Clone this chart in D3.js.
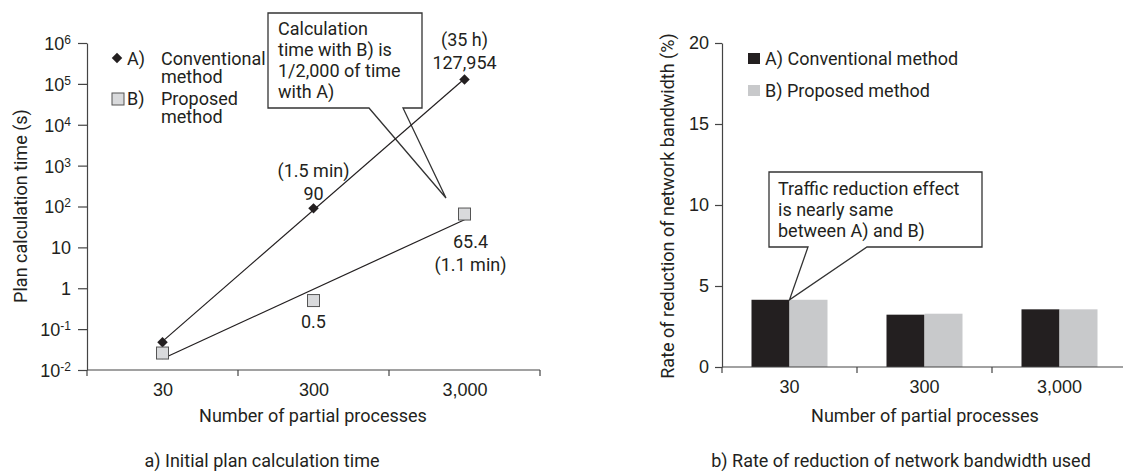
<!DOCTYPE html>
<html>
<head>
<meta charset="utf-8">
<script src="https://cdn.jsdelivr.net/npm/d3@7"></script>
<style>
  body { margin: 0; background: #fff; }
  svg { display: block; font-family: Roboto, "Noto Sans", sans-serif; fill: #231f20; }
</style>
</head>
<body>
<div id="chart"></div>
<script>
// data
const categories = ["30", "300", "3,000"];
const calcTimeA = [0.048, 90, 127954];   // conventional method (s)
const calcTimeB = [0.026, 0.5, 65.4];    // proposed method (s)
const bandwidthA = [4.15, 3.23, 3.56];   // conventional (%)
const bandwidthB = [4.15, 3.29, 3.56];   // proposed (%)
const logTicks = [1e-2, 1e-1, 1, 10, 1e2, 1e3, 1e4, 1e5, 1e6];
const bwTicks = [0, 5, 10, 15, 20];
const seriesNames = ["A) Conventional method", "B) Proposed method"];

const textColor = "#231f20";
const axisColor = "#444";
const fs = 18;

const svg = d3.select("#chart").append("svg")
	.attr("width", 1123)
	.attr("height", 475);

// ---------- a) line chart (log scale) ----------
const xa = d3.scalePoint()
	.domain(categories)
	.range([87, 540])
	.padding(0.5);

const ya = d3.scaleLog()
	.domain([1e-2, 1e6])
	.range([370, 43]);

const gA = svg.append("g");

// y axis with superscript labels
const yAxisA = gA.append("g")
	.attr("transform", "translate(87,0)")
	.call(d3.axisLeft(ya).tickValues(logTicks).tickSize(9).tickSizeOuter(0).tickFormat(""));
yAxisA.selectAll("path, line").attr("stroke", axisColor).attr("stroke-width", 1.2);
yAxisA.selectAll(".tick").each(function(d) {
	const e = Math.round(Math.log10(d));
	const t = d3.select(this).append("text")
		.attr("x", -16)
		.attr("dy", "0.36em")
		.attr("text-anchor", "end")
		.attr("fill", textColor)
		.style("font-size", fs + "px");
	if (e === 0) t.text("1");
	else if (e === 1) t.text("10");
	else {
		t.append("tspan").text("10");
		t.append("tspan").text(e).attr("dy", "-0.5em").style("font-size", "12px");
	}
});

// x axis: labels at centers, ticks at boundaries
const xAxisA = gA.append("g")
	.attr("transform", "translate(0,370)")
	.call(d3.axisBottom(xa).tickSize(0).tickSizeOuter(0));
xAxisA.select(".domain").attr("stroke", axisColor).attr("stroke-width", 1.2)
	.attr("d", "M87,0H540");
xAxisA.selectAll("text").attr("fill", textColor).style("font-size", fs + "px").attr("y", 13);
xAxisA.selectAll(".bound")
	.data(categories)
	.enter().append("line")
	.attr("x1", d => xa(d) + xa.step() / 2)
	.attr("x2", d => xa(d) + xa.step() / 2)
	.attr("y1", 0).attr("y2", 6)
	.attr("stroke", axisColor).attr("stroke-width", 1.2);
gA.append("line").attr("x1", 87).attr("x2", 87).attr("y1", 370).attr("y2", 376)
	.attr("stroke", axisColor).attr("stroke-width", 1.2);

gA.append("text")
	.attr("transform", "translate(27,206) rotate(-90)")
	.attr("text-anchor", "middle")
	.style("font-size", fs + "px")
	.text("Plan calculation time (s)");
gA.append("text")
	.attr("x", 313).attr("y", 422)
	.attr("text-anchor", "middle")
	.style("font-size", fs + "px")
	.text("Number of partial processes");
gA.append("text")
	.attr("x", 262).attr("y", 467)
	.attr("text-anchor", "middle")
	.style("font-size", fs + "px")
	.text("a) Initial plan calculation time");

// callout
gA.append("path")
	.attr("d", "M369,108 L268,108 L268,13 L422,13 L422,108 L403,108 L446,198 Z")
	.attr("fill", "#fff")
	.attr("stroke", "#333")
	.attr("stroke-width", 1.3);
gA.append("text")
	.attr("x", 278).attr("y", 35)
	.style("font-size", fs + "px")
	.selectAll("tspan")
	.data(["Calculation", "time with B) is", "1/2,000 of time", "with A)"])
	.enter().append("tspan")
	.attr("x", 278)
	.attr("dy", (d, i) => i ? 21 : 0)
	.text(d => d);

// exponential trend lines (least squares in log space)
function trend(vals) {
	const xs = vals.map((v, i) => i);
	const ls = vals.map(v => Math.log10(v));
	const mx = d3.mean(xs), my = d3.mean(ls);
	const slope = d3.sum(xs, (x, i) => (x - mx) * (ls[i] - my)) / d3.sum(xs, x => (x - mx) * (x - mx));
	return [0, vals.length - 1].map(i => ({ i, v: Math.pow(10, my + slope * (i - mx)) }));
}
const line = d3.line()
	.x(d => xa(categories[d.i]))
	.y(d => ya(d.v));
[calcTimeA, calcTimeB].forEach(vals => {
	gA.append("path")
		.datum(trend(vals))
		.attr("d", line)
		.attr("fill", "none")
		.attr("stroke", "#231f20")
		.attr("stroke-width", 1.2);
});

// markers
gA.selectAll(".markA")
	.data(calcTimeA)
	.enter().append("path")
	.attr("d", d3.symbol().type(d3.symbolSquare).size(55))
	.attr("transform", (d, i) => `translate(${xa(categories[i])},${ya(d)}) rotate(45)`)
	.attr("fill", "#231f20");
gA.selectAll(".markB")
	.data(calcTimeB)
	.enter().append("rect")
	.attr("x", (d, i) => xa(categories[i]) - 6)
	.attr("y", d => ya(d) - 6)
	.attr("width", 12).attr("height", 12)
	.attr("fill", "#d9dadc")
	.attr("stroke", "#555")
	.attr("stroke-width", 1);

// value labels
const valueLabels = [
	{ s: calcTimeA, i: 1, lines: ["(1.5 min)", "90"], dx: 0, dy: -31 },
	{ s: calcTimeA, i: 2, lines: ["(35 h)", "127,954"], dx: 0, dy: -33 },
	{ s: calcTimeB, i: 1, lines: ["0.5"], dx: 0, dy: 27 },
	{ s: calcTimeB, i: 2, lines: ["65.4", "(1.1 min)"], dx: 6, dy: 34 }
];
valueLabels.forEach(l => {
	const cx = xa(categories[l.i]) + l.dx;
	gA.append("text")
		.attr("x", cx)
		.attr("y", ya(l.s[l.i]) + l.dy)
		.attr("text-anchor", "middle")
		.style("font-size", fs + "px")
		.selectAll("tspan")
		.data(l.lines)
		.enter().append("tspan")
		.attr("x", cx)
		.attr("dy", (d, i) => i ? 23 : 0)
		.text(d => d);
});

// legend (left)
gA.append("path")
	.attr("d", d3.symbol().type(d3.symbolSquare).size(55))
	.attr("transform", "translate(117,58) rotate(45)")
	.attr("fill", "#231f20");
gA.append("rect")
	.attr("x", 112).attr("y", 93).attr("width", 12).attr("height", 12)
	.attr("fill", "#d9dadc").attr("stroke", "#555");
[["A)", "Conventional", "method", 65], ["B)", "Proposed", "method", 105]].forEach(r => {
	gA.append("text").attr("x", 127).attr("y", r[3]).style("font-size", fs + "px").text(r[0]);
	gA.append("text")
		.attr("x", 161).attr("y", r[3])
		.style("font-size", fs + "px")
		.selectAll("tspan")
		.data([r[1], r[2]])
		.enter().append("tspan")
		.attr("x", 161)
		.attr("dy", (d, i) => i ? 18 : 0)
		.text(d => d);
});

// ---------- b) bar chart ----------
const xb = d3.scaleBand()
	.domain(categories)
	.range([722, 1127])
	.paddingInner(0.437)
	.paddingOuter(0.2185);
const xs = d3.scaleBand()
	.domain(["A", "B"])
	.range([0, xb.bandwidth()]);
const yb = d3.scaleLinear()
	.domain([0, 20])
	.range([367, 43]);

const gB = svg.append("g");

const yAxisB = gB.append("g")
	.attr("transform", "translate(722,0)")
	.call(d3.axisLeft(yb).tickValues(bwTicks).tickSize(7).tickSizeOuter(0));
yAxisB.selectAll("path, line").attr("stroke", axisColor).attr("stroke-width", 1.2);
yAxisB.selectAll("text").attr("fill", textColor).style("font-size", fs + "px").attr("x", -13);

const bars = categories.map((c, i) => [
	{ c, k: "A", v: bandwidthA[i] },
	{ c, k: "B", v: bandwidthB[i] }
]).flat();
gB.selectAll("rect.bar")
	.data(bars)
	.enter().append("rect")
	.attr("class", "bar")
	.attr("x", d => xb(d.c) + xs(d.k))
	.attr("y", d => yb(d.v))
	.attr("width", xs.bandwidth())
	.attr("height", d => yb(0) - yb(d.v))
	.attr("fill", d => d.k === "A" ? "#231f20" : "#c8c9cb");

const xAxisB = gB.append("g")
	.attr("transform", "translate(0,367)")
	.call(d3.axisBottom(xb).tickSize(0).tickSizeOuter(0));
xAxisB.select(".domain").attr("stroke", axisColor).attr("stroke-width", 1.2)
	.attr("d", "M722,0H1127");
xAxisB.selectAll("text").attr("fill", textColor).style("font-size", fs + "px").attr("y", 13);
xAxisB.selectAll(".bound")
	.data(categories)
	.enter().append("line")
	.attr("x1", d => xb(d) - xb.step() * xb.paddingOuter() + xb.step())
	.attr("x2", d => xb(d) - xb.step() * xb.paddingOuter() + xb.step())
	.attr("y1", 0).attr("y2", 6)
	.attr("stroke", axisColor).attr("stroke-width", 1.2);
gB.append("line").attr("x1", 722).attr("x2", 722).attr("y1", 367).attr("y2", 373)
	.attr("stroke", axisColor).attr("stroke-width", 1.2);

gB.append("text")
	.attr("transform", "translate(674,206) rotate(-90)")
	.attr("text-anchor", "middle")
	.style("font-size", fs + "px")
	.text("Rate of reduction of network bandwidth (%)");
gB.append("text")
	.attr("x", 925).attr("y", 422)
	.attr("text-anchor", "middle")
	.style("font-size", fs + "px")
	.text("Number of partial processes");
gB.append("text")
	.attr("x", 901).attr("y", 467)
	.attr("text-anchor", "middle")
	.style("font-size", fs + "px")
	.text("b) Rate of reduction of network bandwidth used");

// legend (right)
seriesNames.forEach((n, i) => {
	gB.append("rect")
		.attr("x", 748).attr("y", 53 + i * 32).attr("width", 12).attr("height", 11)
		.attr("fill", i ? "#c8c9cb" : "#231f20");
	gB.append("text")
		.attr("x", 765).attr("y", 65 + i * 32)
		.style("font-size", fs + "px")
		.text(n);
});

// callout pointing at the top of the first bar pair
const tipX = xb(categories[0]) + xs("A") + xs.bandwidth();
const tipY = yb(bandwidthA[0]);
gB.append("path")
	.attr("d", `M808,247 L769,247 L769,172 L982,172 L982,247 L867,247 L${tipX},${tipY} Z`)
	.attr("fill", "#fff")
	.attr("stroke", "#333")
	.attr("stroke-width", 1.3);
gB.append("text")
	.attr("x", 778).attr("y", 195)
	.style("font-size", fs + "px")
	.selectAll("tspan")
	.data(["Traffic reduction effect", "is nearly same", "between A) and B)"])
	.enter().append("tspan")
	.attr("x", 778)
	.attr("dy", (d, i) => i ? 21 : 0)
	.text(d => d);
</script>
</body>
</html>
